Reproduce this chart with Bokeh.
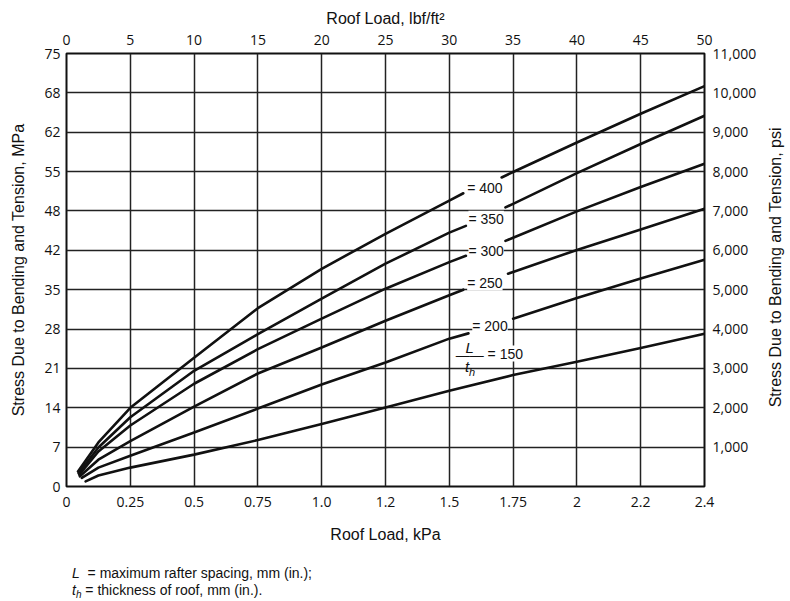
import math
import numpy as np
from bokeh.plotting import figure
from bokeh.models import Range1d, LinearAxis, FixedTicker, Label, Div
from bokeh.layouts import column, row
from bokeh.core.properties import value
from bokeh.embed import file_html
from bokeh.resources import INLINE

nan = float("nan")

# ---- data: roof load (lbf/ft^2) vs stress (psi); NaN = break where the curve label sits
load_400 = [0.9, 2.5, 5, 10, 15, 20, 25, 30, 31.1, nan, 34.1, 35, 40, 45, 50]
stress_400 = [380, 1120, 2000, 3270, 4530, 5530, 6420, 7260, 7450, nan, 7850, 7990, 8740, 9470, 10170]

load_350 = [0.95, 2.5, 5, 10, 15, 20, 25, 30, 31.3, nan, 34.4, 35, 40, 45, 50]
stress_350 = [340, 990, 1760, 2940, 3870, 4770, 5660, 6450, 6620, nan, 7090, 7180, 7960, 8700, 9420]

load_300 = [1.0, 2.5, 5, 10, 15, 20, 25, 30, 31.3, nan, 34.4, 35, 40, 45, 50]
stress_300 = [300, 890, 1550, 2610, 3490, 4264, 5025, 5700, 5860, nan, 6240, 6320, 6990, 7610, 8200]

load_250 = [1.05, 2.5, 5, 10, 15, 20, 25, 30, 31.1, nan, 34.6, 35, 40, 45, 50]
stress_250 = [260, 680, 1150, 2030, 2870, 3530, 4210, 4860, 5000, nan, 5406, 5450, 6010, 6530, 7056]

load_200 = [1.2, 2.5, 5, 10, 15, 20, 25, 30, 31.5, nan, 35.0, 40, 45, 50]
stress_200 = [220, 480, 780, 1370, 1980, 2590, 3150, 3756, 3890, nan, 4264, 4790, 5285, 5761]

load_150 = [1.5, 2.5, 5, 10, 15, 20, 25, 30, 35, 40, 45, 50]
stress_150 = [130, 280, 480, 810, 1180, 1590, 2005, 2430, 2830, 3170, 3520, 3883]

curves = [
    (load_400, stress_400), (load_350, stress_350), (load_300, stress_300),
    (load_250, stress_250), (load_200, stress_200), (load_150, stress_150),
]

# ---- axes ticks / labels
lbf_ticks = [0, 5, 10, 15, 20, 25, 30, 35, 40, 45, 50]
lbf_labels = ["0", "5", "10", "15", "20", "25", "30", "35", "40", "45", "50"]
kpa_labels = ["0", "0.25", "0.5", "0.75", "1.0", "1.2", "1.5", "1.75", "2", "2.2", "2.4"]
psi_ticks = [0, 1000, 2000, 3000, 4000, 5000, 6000, 7000, 8000, 9000, 10000, 11000]
mpa_labels = ["0", "7", "14", "21", "28", "35", "42", "48", "55", "62", "68", "75"]
psi_right_ticks = [1000, 2000, 3000, 4000, 5000, 6000, 7000, 8000, 9000, 10000, 11000]
psi_labels = ["1,000", "2,000", "3,000", "4,000", "5,000", "6,000", "7,000",
              "8,000", "9,000", "10,000", "11,000"]

ratio_texts = ["= 400", "= 350", "= 300", "= 250", "= 200"]
right_title = "Stress Due to Bending and Tension, psi"

INK = "#111111"
FIG_H = 545

p = figure(width=762, height=FIG_H, x_range=Range1d(0, 50), y_range=Range1d(0, 11000),
           output_backend="svg", toolbar_location=None,
           min_border_left=66, min_border_right=58, min_border_top=53,
           min_border_bottom=FIG_H - 486)
p.background_fill_color = "white"
p.border_fill_color = "white"
p.outline_line_color = INK
p.outline_line_width = 2


def style_axis(ax):
    ax.major_tick_out = 0
    ax.major_tick_in = 0
    ax.minor_tick_out = 0
    ax.minor_tick_in = 0
    ax.axis_line_color = None
    ax.major_label_text_font = "Open Sans"
    ax.major_label_text_font_size = "14px"
    ax.major_label_text_color = INK
    ax.axis_label_text_font = "Liberation Sans"
    ax.axis_label_text_font_size = "16px"
    ax.axis_label_text_font_style = "normal"
    ax.axis_label_text_color = INK


xb = p.xaxis[0]
xb.ticker = FixedTicker(ticks=lbf_ticks)
xb.major_label_overrides = {t: l for t, l in zip(lbf_ticks, kpa_labels)}
xb.axis_label = "Roof Load, kPa"
style_axis(xb)
xb.major_label_standoff = 10
xb.axis_label_standoff = 16

yl = p.yaxis[0]
yl.ticker = FixedTicker(ticks=psi_ticks)
yl.major_label_overrides = {t: l for t, l in zip(psi_ticks, mpa_labels)}
yl.axis_label = "Stress Due to Bending and Tension, MPa"
style_axis(yl)
yl.major_label_standoff = 6
yl.axis_label_standoff = 14

xt = LinearAxis(ticker=FixedTicker(ticks=lbf_ticks),
                major_label_overrides={t: l for t, l in zip(lbf_ticks, lbf_labels)},
                axis_label="Roof Load, lbf/ft²")
style_axis(xt)
xt.major_label_standoff = 9
xt.axis_label_standoff = 5
p.add_layout(xt, "above")

yr = LinearAxis(ticker=FixedTicker(ticks=psi_right_ticks),
                major_label_overrides={t: l for t, l in zip(psi_right_ticks, psi_labels)})
style_axis(yr)
yr.major_label_standoff = 8
p.add_layout(yr, "right")

p.xgrid.ticker = FixedTicker(ticks=lbf_ticks)
p.ygrid.ticker = FixedTicker(ticks=psi_ticks)
for g in (p.xgrid[0], p.ygrid[0]):
    g.grid_line_color = "#222222"
    g.grid_line_width = 1.5

for xs, ys in curves:
    p.line(np.array(xs, dtype=float), np.array(ys, dtype=float),
           line_color=INK, line_width=2.6, line_join="round", line_cap="round")

# ---- curve labels
label_pos = [(31.4, 7590), (31.5, 6800), (31.5, 5990), (31.4, 5180), (31.8, 4090)]
for (lx, ly), t in zip(label_pos, ratio_texts):
    p.add_layout(Label(x=lx, y=ly, text=t, text_font="Liberation Sans", text_font_size="14px",
                       text_color=INK, text_baseline="middle", text_align="left",
                       background_fill_color="white"))

p.add_layout(Label(x=31.6, y=3520, text="L", text_font="Liberation Sans", text_font_size="15px",
                   text_font_style="italic", text_color=INK, text_baseline="middle",
                   text_align="center", background_fill_color="white"))
p.add_layout(Label(x=31.6, y=3330, text="——", text_font="Liberation Sans", text_font_size="14px",
                   text_color=INK, text_baseline="middle", text_align="center"))
p.add_layout(Label(x=31.4, y=3040, text="t", text_font="Liberation Sans", text_font_size="15px",
                   text_font_style="italic", text_color=INK, text_baseline="middle",
                   text_align="center"))
p.add_layout(Label(x=31.55, y=2900, text="h", text_font="Liberation Sans", text_font_size="11px",
                   text_font_style="italic", text_color=INK, text_baseline="middle",
                   text_align="left"))
p.add_layout(Label(x=33.0, y=3376, text="= 150", text_font="Liberation Sans", text_font_size="14px",
                   text_color=INK, text_baseline="middle", text_align="left",
                   background_fill_color="white"))

# ---- right-hand axis title (reads bottom to top) in a narrow strip
p2 = figure(width=28, height=FIG_H, x_range=Range1d(0, 28), y_range=Range1d(0, FIG_H),
            output_backend="svg", toolbar_location=None, x_axis_type=None, y_axis_type=None,
            min_border=0)
p2.outline_line_color = None
p2.background_fill_color = "white"
p2.border_fill_color = "white"
p2.text(x=[13], y=[FIG_H - 269], text=[right_title], angle=math.pi / 2,
        text_align="center", text_baseline="middle", text_color=INK,
        text_font=value("Liberation Sans"), text_font_size=value("16px"))

# ---- footnotes
notes = Div(width=790, height=601 - FIG_H, text=(
    "<div style=\"font-family:'Liberation Sans',Arial,sans-serif;font-size:14px;line-height:17px;"
    "color:#111;padding:15px 0 0 67px;margin:0;white-space:nowrap;\">"
    "<i>L</i>&nbsp;&nbsp;= maximum rafter spacing, mm (in.);<br>"
    "<i>t</i><i style=\"font-size:10px;line-height:10px;display:inline-block;"
    "vertical-align:-3px;\">h</i> = thickness of roof, mm (in.)."
    "</div>"))

layout = column(row(p, p2), notes)

open("out.html", "w").write(file_html(layout, INLINE))
